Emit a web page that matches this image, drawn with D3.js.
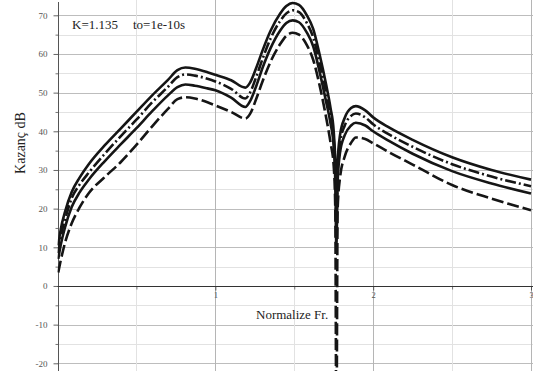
<!DOCTYPE html>
<html><head><meta charset="utf-8">
<script src="https://cdn.jsdelivr.net/npm/d3@7"></script>
<style>body{margin:0;background:#fff}svg{display:block}</style>
</head><body><svg id="c" width="533" height="371"></svg>
<script>
// Normalized frequency samples
const freq = [0.005,0.02,0.05,0.09,0.14,0.2,0.3,0.4,0.5,0.6,0.7,0.76,0.81,0.87,0.95,1.0,1.1,1.19,1.22,1.26,1.3,1.35,1.41,1.45,1.49,1.53,1.58,1.62,1.66,1.7,1.73,1.75,1.76,1.767,1.775,1.79,1.82,1.86,1.89,1.95,2.0,2.1,2.25,2.5,2.75,3.0];
// Gain curves (dB)
const gain1 = [10.5,14.5,19.5,24.3,28.0,31.6,36.4,40.7,45,49.3,53.3,55.8,56.5,56.2,55.3,54.6,53.2,51.3,52.6,56.5,61,66,70.4,72.4,73.2,72.7,70,66.5,60,52.5,46,40,32,20,32,39,43.5,46,46.5,45.4,43.6,41.0,37.8,33.3,30,27.5];
const gain2 = [8.5,12.5,17.5,22.7,26.2,29.4,34.2,38.7,43,47.5,51.5,54,54.7,54.4,53.6,52.9,51,48.5,50,54.2,58.8,64,68.5,70.5,71.3,70.8,68,64.3,57.8,50.5,44,38,30,17,30,37,41.5,44,44.6,43.6,41.8,39.2,36.0,31.5,28.3,25.8];
const gain3 = [7,10.5,15.5,20.4,24.2,27.6,32.3,36.6,40.8,45.2,49.3,51.4,52.1,51.8,51.1,50.6,48.7,46.3,47.8,51.8,56.5,61.5,66,68,68.7,68.2,65.5,62,55.5,48,42,36,27,10,27,34.5,39,41.5,42.2,41.5,40,37.5,34.2,29.7,26.5,23.9];
const gain4 = [3.5,6.5,11.5,16.2,20.3,24.1,28.2,32,36.5,41.3,45.8,48.3,48.8,48.5,47.5,46.7,45,43.3,44.5,48.5,53,58,62.5,64.7,65.5,65,62.3,58.5,52,44,37,31,20,-40,20,28,33.5,37,38.4,38.0,36.9,34.6,31.4,26.1,22.6,19.6];
const series = [gain1, gain2, gain3, gain4];
const dashes = [null, "11,3,2,3", null, "12,4"];
const yMajor = [-20,-10,0,10,20,30,40,50,60,70];
const yMinor = [-15,-5,5,15,25,35,45,55,65];
const xMajor = [1,2,3];
const xMinor = [0.5,1.5,2.5];
const xTickLabels = ["1","2","3"];
const annotationK = "K=1.135";
const annotationT = "to=1e-10s";
const xTitle = "Normalize Fr.";
const yTitle = "Kazanç dB";

const W = 533, H = 371;
const svg = d3.select("#c");
const x = d3.scaleLinear().domain([0,3]).range([57.5,531]);
const y = d3.scaleLinear().domain([-20,70]).range([363.3,15.3]);
const serif = "'Liberation Serif','Times New Roman',serif";

// grid
const g = svg.append("g");
g.selectAll(".hmin").data(yMinor).join("line")
  .attr("x1",x(0)).attr("x2",W).attr("y1",d=>Math.round(y(d))+0.5).attr("y2",d=>Math.round(y(d))+0.5)
  .attr("stroke","#e2e2e2").attr("stroke-width",1);
g.selectAll(".hmaj").data(yMajor.filter(d=>d!==0)).join("line")
  .attr("x1",x(0)).attr("x2",W).attr("y1",d=>Math.round(y(d))+0.5).attr("y2",d=>Math.round(y(d))+0.5)
  .attr("stroke","#bdbdbd").attr("stroke-width",1);
g.selectAll(".vmin").data(xMinor).join("line")
  .attr("y1",0).attr("y2",H).attr("x1",d=>Math.round(x(d))+0.5).attr("x2",d=>Math.round(x(d))+0.5)
  .attr("stroke","#e2e2e2").attr("stroke-width",1);
g.selectAll(".vmaj").data(xMajor).join("line")
  .attr("y1",0).attr("y2",H).attr("x1",d=>Math.round(x(d))+0.5).attr("x2",d=>Math.round(x(d))+0.5)
  .attr("stroke","#b5b5b5").attr("stroke-width",1);

// y axis
const yAx = svg.append("g").attr("transform",`translate(${Math.round(x(0))+0.5},0)`)
  .call(d3.axisLeft(y).tickValues(yMajor).tickSize(5).tickFormat(d=>String(d)));
yAx.attr("font-family",serif);
yAx.select(".domain").remove();
yAx.selectAll(".tick line").attr("stroke","#666");
yAx.selectAll(".tick text").attr("font-family",serif).attr("font-size",9).attr("fill","#555").attr("dx",-3);
const yAxMin = svg.append("g").attr("transform",`translate(${Math.round(x(0))+0.5},0)`)
  .call(d3.axisLeft(y).tickValues(yMinor).tickSize(3).tickFormat(""));
yAxMin.select(".domain").remove();
yAxMin.selectAll(".tick line").attr("stroke","#777");
svg.append("line").attr("x1",Math.round(x(0))+0.5).attr("x2",Math.round(x(0))+0.5).attr("y1",2).attr("y2",H)
  .attr("stroke","#555").attr("stroke-width",1);

// x axis at y=0
const y0 = Math.round(y(0))+0.5;
const xAx = svg.append("g").attr("transform",`translate(0,${y0})`)
  .call(d3.axisBottom(x).tickValues(xMajor).tickSize(4).tickFormat((d,i)=>xTickLabels[i]));
xAx.attr("font-family",serif);
xAx.select(".domain").remove();
xAx.selectAll(".tick line").attr("stroke","#555");
xAx.selectAll(".tick text").attr("font-family",serif).attr("font-size",8.5).attr("fill","#555").attr("dy","0.5em");
const xAxMin = svg.append("g").attr("transform",`translate(0,${y0})`)
  .call(d3.axisBottom(x).tickValues(xMinor).tickSize(3).tickFormat(""));
xAxMin.select(".domain").remove();
xAxMin.selectAll(".tick line").attr("stroke","#777");
svg.append("line").attr("x1",x(0)).attr("x2",W).attr("y1",y0).attr("y2",y0).attr("stroke","#333").attr("stroke-width",1.2);

// curves
svg.append("clipPath").attr("id","clip").append("rect").attr("x",x(0)).attr("y",0).attr("width",W-x(0)).attr("height",H);
const line = d3.line().x((d,i)=>x(freq[i])).y(d=>y(d)).curve(d3.curveMonotoneX);
svg.append("g").attr("clip-path","url(#clip)").selectAll("path").data(series).join("path")
  .attr("d",d=>line(d)).attr("fill","none").attr("stroke","#151515").attr("stroke-width",2.6)
  .attr("stroke-linejoin","round")
  .attr("stroke-dasharray",(d,i)=>dashes[i]);

// texts
svg.append("text").attr("x",72).attr("y",29).attr("font-family",serif).attr("font-size",13).attr("fill","#222").text(annotationK);
svg.append("text").attr("x",133).attr("y",29).attr("font-family",serif).attr("font-size",13).attr("fill","#222").text(annotationT);
svg.append("text").attr("x",256).attr("y",319).attr("font-family",serif).attr("font-size",13).attr("fill","#222").text(xTitle);
svg.append("text").attr("transform","translate(25,143) rotate(-90)").attr("text-anchor","middle")
  .attr("font-family",serif).attr("font-size",14).attr("fill","#222").text(yTitle);
</script></body></html>
